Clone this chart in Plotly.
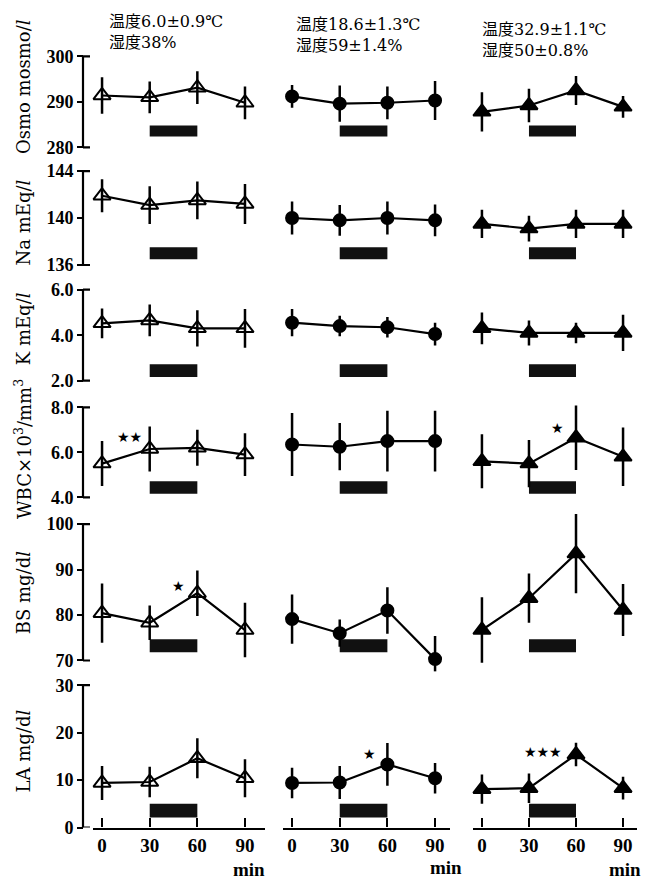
import plotly.graph_objects as go

# ---------------- data ----------------
minutes = [0, 30, 60, 90]
minute_labels = ["0", "30", "60", "90"]

header_temp = ["温度6.0±0.9℃", "温度18.6±1.3℃", "温度32.9±1.1℃"]
header_hum = ["湿度38%", "湿度59±1.4%", "湿度50±0.8%"]

row_titles = ["Osmo mosmo/<i>l</i>", "Na mEq/<i>l</i>", "K mEq/<i>l</i>",
              "WBC×10<sup>3</sup>/mm<sup>3</sup>", "BS mg/d<i>l</i>", "LA mg/d<i>l</i>"]
y_ranges = [[280, 300], [136, 144], [2, 6], [4, 8], [70, 100], [0, 30]]
y_tickvals = [[280, 290, 300], [136, 140, 144], [2, 4, 6], [4, 6, 8],
              [70, 80, 90, 100], [0, 10, 20, 30]]
y_ticktext = [["280", "290", "300"], ["136", "140", "144"], ["2.0", "4.0", "6.0"],
              ["4.0", "6.0", "8.0"], ["70", "80", "90", "100"], ["0", "10", "20", "30"]]

# mean values [col 6.0°C, col 18.6°C, col 32.9°C] at 0/30/60/90 min
osmo_mean = [[291.4, 291.0, 293.1, 289.8], [291.2, 289.6, 289.8, 290.3], [287.8, 289.2, 292.5, 288.9]]
osmo_sd = [[4.0, 3.5, 3.6, 3.6], [2.5, 4.0, 3.6, 4.3], [4.3, 3.7, 3.2, 2.4]]
na_mean = [[141.9, 141.1, 141.5, 141.2], [140.0, 139.8, 140.0, 139.8], [139.5, 139.1, 139.5, 139.5]]
na_sd = [[1.4, 1.6, 1.6, 1.7], [1.4, 1.3, 1.4, 1.35], [1.2, 1.1, 1.2, 1.2]]
k_mean = [[4.52, 4.65, 4.3, 4.3], [4.55, 4.4, 4.35, 4.05], [4.3, 4.1, 4.1, 4.1]]
k_sd = [[0.65, 0.7, 0.8, 0.85], [0.6, 0.45, 0.45, 0.5], [0.7, 0.55, 0.45, 0.8]]
wbc_mean = [[5.5, 6.15, 6.2, 5.9], [6.35, 6.25, 6.5, 6.5], [5.6, 5.5, 6.65, 5.8]]
wbc_sd = [[1.0, 1.0, 0.8, 0.95], [1.4, 1.05, 1.35, 1.35], [1.2, 1.05, 1.43, 1.3]]
bs_mean = [[80.4, 78.3, 84.8, 76.7], [79.1, 76.0, 81.0, 70.3], [76.7, 83.7, 93.5, 81.1]]
bs_sd = [[6.5, 3.8, 5.0, 6.0], [5.4, 3.0, 5.1, 5.1], [7.2, 5.4, 8.7, 5.7]]
la_mean = [[9.4, 9.6, 14.6, 10.4], [9.4, 9.5, 13.3, 10.4], [8.1, 8.3, 15.4, 8.3]]
la_sd = [[3.6, 3.2, 4.2, 4.0], [3.2, 3.5, 4.5, 3.2], [3.1, 3.1, 2.5, 2.4]]

means = [osmo_mean, na_mean, k_mean, wbc_mean, bs_mean, la_mean]
sds = [osmo_sd, na_sd, k_sd, wbc_sd, bs_sd, la_sd]

exercise_start = 30
exercise_end = 60

# significance marks
sig_rows = [3, 3, 4, 5, 5]
sig_cols = [0, 2, 0, 1, 2]
sig_x = [17, 48, 48, 49, 39]
sig_y = [6.7, 7.08, 86.3, 15.6, 16.0]
sig_text = ["★★", "★", "★", "★", "★★★"]

# ---------------- layout geometry (pixels) ----------------
W, H = 650, 889
col_px = [(93, 265), (283, 450), (473, 637)]
col_xrange = [[-5.7, 102.6], [-5.7, 99.4], [-5.7, 98.9]]
row_px = [(57, 149), (173, 268), (293, 385), (412, 503), (530, 668), (693, 837)]
row_pad = [(14, 14), (14, 14), (14, 14), (14, 14), (16, 16), (14, 0)]  # extra room (top, bottom)
bar_frac = [(0.12, 0.24), (0.06, 0.19), (0.04, 0.18), (0.04, 0.18), (0.06, 0.155), (0.07, 0.167)]
yaxis_px = 83
title_centers = [88, 225, 333, 454, 600, 760]

SERIF = "Liberation Serif, Noto Sans CJK JP, serif"
DSERIF = "DejaVu Serif, Noto Sans CJK JP, serif"

symbols = ["triangle-up-open", "circle", "triangle-up"]
sizes = [15, 12, 15]

fig = go.Figure()
layout = {}
shapes = []
annotations = []

for r in range(6):
    top_px, bot_px = row_px[r]
    lo, hi = y_ranges[r]
    ppu = (bot_px - top_px) / (hi - lo)
    pt, pb = row_pad[r]
    ext_range = [lo - pb / ppu, hi + pt / ppu]
    ext_dom = [1 - (bot_px + pb) / H, 1 - (top_px - pt) / H]
    for c in range(3):
        n = r * 3 + c + 1
        xs = "" if n == 1 else str(n)
        fig.add_trace(go.Scatter(
            x=minutes, y=means[r][c],
            xaxis="x" + xs, yaxis="y" + xs,
            mode="lines+markers",
            line=dict(color="black", width=2.2),
            marker=dict(symbol=symbols[c], size=sizes[c], color="black",
                        line=dict(color="black", width=2)),
            error_y=dict(type="data", array=sds[r][c], color="black",
                         thickness=2.5, width=0),
            cliponaxis=False,
            hoverinfo="skip",
        ))
        x0, x1 = col_px[c]
        xa = dict(domain=[x0 / W, x1 / W], range=col_xrange[c],
                  anchor="y" + xs, showgrid=False, zeroline=False, fixedrange=True)
        if r == 5:
            xa.update(showline=True, linecolor="black", linewidth=2.2,
                      ticks="inside", ticklen=9, tickwidth=2, tickcolor="black",
                      tickvals=minutes, ticktext=minute_labels,
                      tickfont=dict(family=SERIF, size=19, color="black", weight="bold"))
        else:
            xa.update(visible=False)
        ya = dict(domain=ext_dom, range=ext_range,
                  showgrid=False, zeroline=False, fixedrange=True)
        if c == 0:
            ya.update(anchor="free", position=yaxis_px / W, showline=False,
                      ticks="outside", ticklen=6,
                      tickwidth=2, tickcolor="black", tickvals=y_tickvals[r],
                      ticktext=y_ticktext[r],
                      tickfont=dict(family=SERIF, size=18, color="black", weight="bold"))
            # bracket-style axis line
            shapes.append(dict(type="line", xref="paper", yref="y" + xs,
                               x0=yaxis_px / W, x1=yaxis_px / W, y0=lo, y1=hi,
                               line=dict(color="black", width=2.2)))
            for yy in (lo, hi):
                shapes.append(dict(type="line", xref="paper", yref="y" + xs,
                                   x0=yaxis_px / W, x1=(yaxis_px + 7) / W, y0=yy, y1=yy,
                                   line=dict(color="black", width=2.2)))
        else:
            ya.update(anchor="x" + xs, visible=False)
        layout["xaxis" + xs] = xa
        layout["yaxis" + xs] = ya
        # exercise bar
        shapes.append(dict(type="rect", xref="x" + xs, yref="y" + xs,
                           x0=exercise_start, x1=exercise_end,
                           y0=lo + bar_frac[r][0] * (hi - lo),
                           y1=lo + bar_frac[r][1] * (hi - lo),
                           fillcolor="#111111", line=dict(width=0), layer="below"))

# row titles
for r in range(6):
    annotations.append(dict(text=row_titles[r], xref="paper", yref="paper",
                            x=23 / W, y=1 - title_centers[r] / H, textangle=-90,
                            showarrow=False, xanchor="center", yanchor="middle",
                            font=dict(family=DSERIF, size=18, color="black")))

# column headers
hdr_x = [107, 294, 480]
hdr_y1 = [20, 23.5, 28]
for c in range(3):
    annotations.append(dict(text=header_temp[c] + "<br>" + header_hum[c],
                            xref="paper", yref="paper", align="left",
                            x=hdr_x[c] / W, y=1 - (hdr_y1[c] - 10) / H, showarrow=False,
                            xanchor="left", yanchor="top",
                            font=dict(family=DSERIF, size=16, color="black")))

# "min" labels
min_x = [249, 446, 625]
min_y = [879, 877, 879]
for c in range(3):
    annotations.append(dict(text="min", xref="paper", yref="paper",
                            x=min_x[c] / W, y=1 - min_y[c] / H, showarrow=False,
                            xanchor="center", yanchor="middle",
                            font=dict(family=SERIF, size=19, color="black", weight="bold")))

# significance stars
for i in range(len(sig_text)):
    n = sig_rows[i] * 3 + sig_cols[i] + 1
    xs = "" if n == 1 else str(n)
    annotations.append(dict(text=sig_text[i], xref="x" + xs, yref="y" + xs,
                            x=sig_x[i], y=sig_y[i], showarrow=False,
                            font=dict(family="DejaVu Sans", size=14, color="black")))

fig.update_layout(**layout)
fig.update_layout(width=W, height=H, margin=dict(l=0, r=0, t=0, b=0),
                  paper_bgcolor="white", plot_bgcolor="white", showlegend=False,
                  shapes=shapes, annotations=annotations)

fig.write_html("out.html", config={"displayModeBar": False},
               post_script="document.body.style.margin='0';document.body.style.padding='0';document.body.style.overflow='hidden';")
